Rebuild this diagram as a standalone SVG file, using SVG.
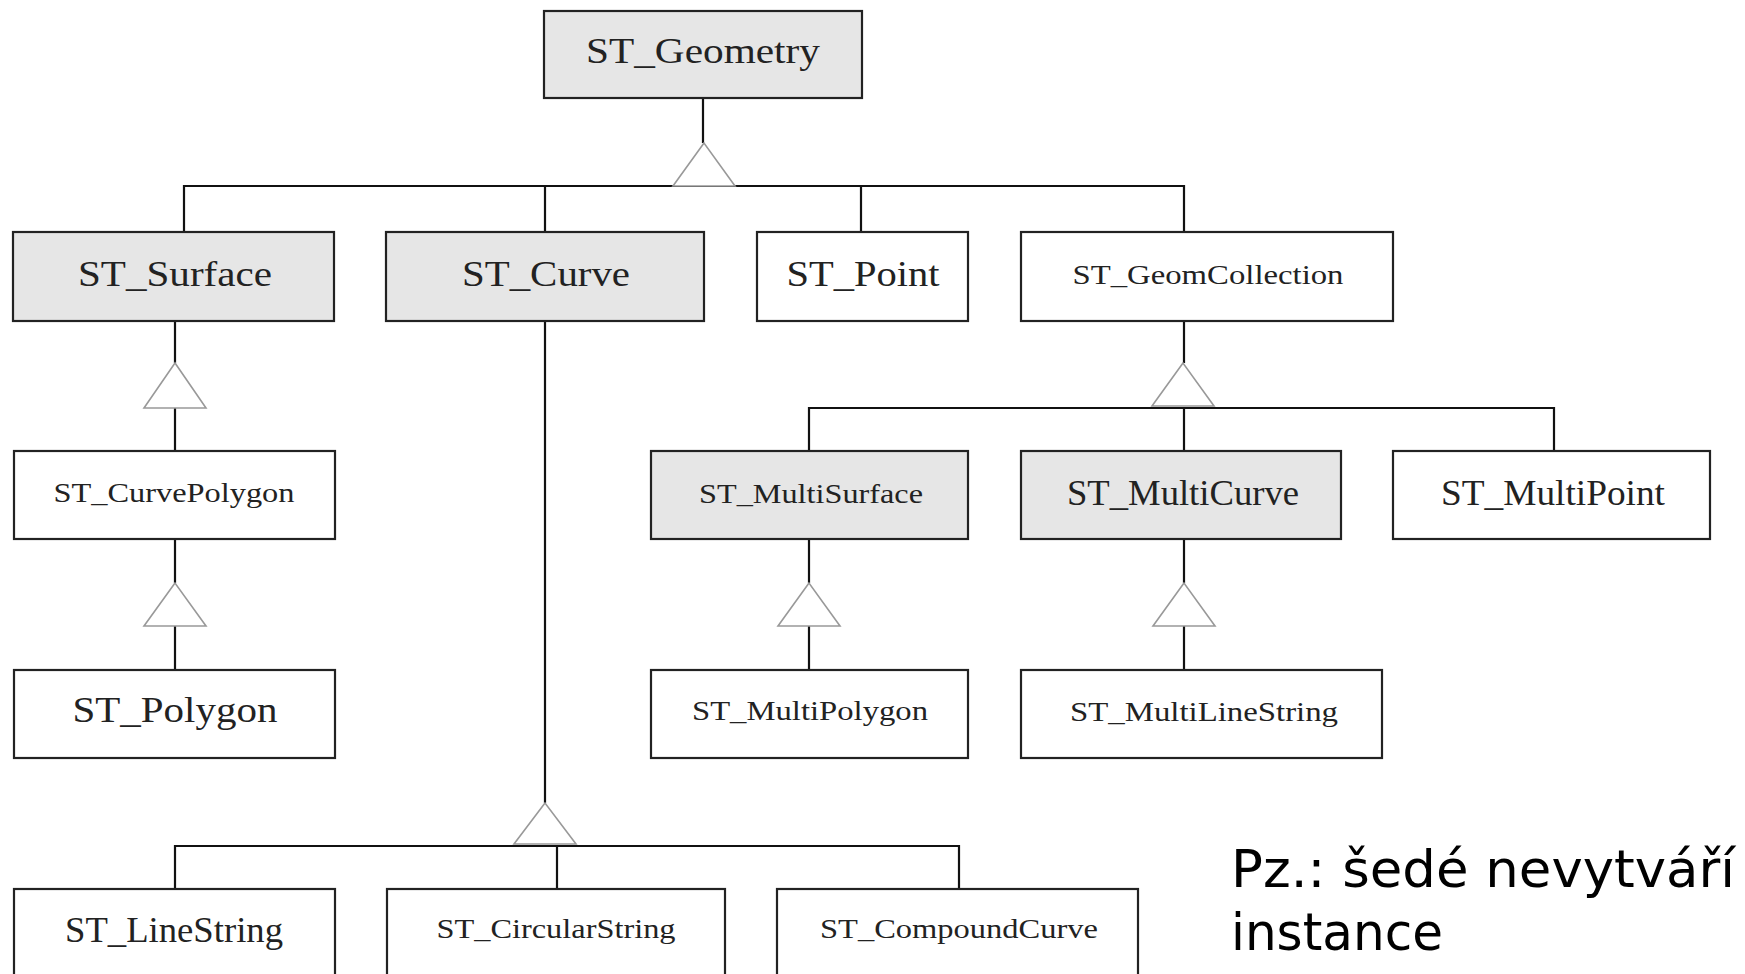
<svg xmlns="http://www.w3.org/2000/svg" width="1745" height="974" viewBox="0 0 1745 974">
<style>
.box{stroke:#222;stroke-width:2.2}
.abs{fill:#e6e6e6}
.con{fill:#fff}
.lbl{font-family:"Liberation Serif","Times New Roman",serif;fill:#222;text-anchor:middle}
.big{font-size:35px}
.sm{font-size:27px}
.ln{stroke:#111;stroke-width:2.2;fill:none}
.tri{fill:#fff;stroke:#999;stroke-width:1.6}
.note{font-family:"DejaVu Sans",Verdana,sans-serif;font-size:52px;fill:#000}
</style>
<rect width="1745" height="974" fill="#fff"/>
<g id="connectors">
<path class="ln" d="M703 98V143M184 232V186H1184V232M545 186V232M861 186V232"/>
<path class="ln" d="M175 321V363M175 408V451M175 539V583M175 626V670"/>
<path class="ln" d="M545 321V803M175 889V846H959V889M557 846V889"/>
<path class="ln" d="M1184 321V363M809 451V408H1554V451M1184 408V451"/>
<path class="ln" d="M809 539V583M809 626V670M1184 539V583M1184 626V670"/>
<polygon class="tri" points="704,143 673,186 735,186"/>
<polygon class="tri" points="175,363 144,408 206,408"/>
<polygon class="tri" points="175,583 144,626 206,626"/>
<polygon class="tri" points="545,803 514,844 576,844"/>
<polygon class="tri" points="1183,363 1152,406 1214,406"/>
<polygon class="tri" points="809,583 778,626 840,626"/>
<polygon class="tri" points="1184,583 1153,626 1215,626"/>
</g>
<g id="ST_Geometry"><rect class="box abs" x="544" y="11" width="318" height="87"/><text class="lbl big" x="703" y="63" textLength="234" lengthAdjust="spacingAndGlyphs">ST_Geometry</text></g>
<g id="ST_Surface"><rect class="box abs" x="13" y="232" width="321" height="89"/><text class="lbl big" x="175" y="286" textLength="194" lengthAdjust="spacingAndGlyphs">ST_Surface</text></g>
<g id="ST_Curve"><rect class="box abs" x="386" y="232" width="318" height="89"/><text class="lbl big" x="546" y="286" textLength="168" lengthAdjust="spacingAndGlyphs">ST_Curve</text></g>
<g id="ST_Point"><rect class="box con" x="757" y="232" width="211" height="89"/><text class="lbl big" x="863" y="286" textLength="153" lengthAdjust="spacingAndGlyphs">ST_Point</text></g>
<g id="ST_GeomCollection"><rect class="box con" x="1021" y="232" width="372" height="89"/><text class="lbl sm" x="1208" y="284" textLength="271" lengthAdjust="spacingAndGlyphs">ST_GeomCollection</text></g>
<g id="ST_CurvePolygon"><rect class="box con" x="14" y="451" width="321" height="88"/><text class="lbl sm" x="174" y="502" textLength="241" lengthAdjust="spacingAndGlyphs">ST_CurvePolygon</text></g>
<g id="ST_MultiSurface"><rect class="box abs" x="651" y="451" width="317" height="88"/><text class="lbl sm" x="811" y="503" textLength="224" lengthAdjust="spacingAndGlyphs">ST_MultiSurface</text></g>
<g id="ST_MultiCurve"><rect class="box abs" x="1021" y="451" width="320" height="88"/><text class="lbl big" x="1183" y="505" font-size="31" textLength="232" lengthAdjust="spacingAndGlyphs">ST_MultiCurve</text></g>
<g id="ST_MultiPoint"><rect class="box con" x="1393" y="451" width="317" height="88"/><text class="lbl big" x="1553" y="505" font-size="31" textLength="224" lengthAdjust="spacingAndGlyphs">ST_MultiPoint</text></g>
<g id="ST_Polygon"><rect class="box con" x="14" y="670" width="321" height="88"/><text class="lbl big" x="175" y="722" textLength="205" lengthAdjust="spacingAndGlyphs">ST_Polygon</text></g>
<g id="ST_MultiPolygon"><rect class="box con" x="651" y="670" width="317" height="88"/><text class="lbl sm" x="810" y="720" textLength="236" lengthAdjust="spacingAndGlyphs">ST_MultiPolygon</text></g>
<g id="ST_MultiLineString"><rect class="box con" x="1021" y="670" width="361" height="88"/><text class="lbl sm" x="1204" y="721" textLength="268" lengthAdjust="spacingAndGlyphs">ST_MultiLineString</text></g>
<g id="ST_LineString"><rect class="box con" x="14" y="889" width="321" height="95"/><text class="lbl big" x="174" y="942" font-size="31" textLength="218" lengthAdjust="spacingAndGlyphs">ST_LineString</text></g>
<g id="ST_CircularString"><rect class="box con" x="387" y="889" width="338" height="95"/><text class="lbl sm" x="556" y="938" textLength="239" lengthAdjust="spacingAndGlyphs">ST_CircularString</text></g>
<g id="ST_CompoundCurve"><rect class="box con" x="777" y="889" width="361" height="95"/><text class="lbl sm" x="959" y="938" textLength="278" lengthAdjust="spacingAndGlyphs">ST_CompoundCurve</text></g>
<g id="note"><text class="note" x="1231" y="887" textLength="504" lengthAdjust="spacingAndGlyphs">Pz.: šedé nevytváří</text><text class="note" x="1231" y="950" textLength="212" lengthAdjust="spacingAndGlyphs">instance</text></g>
</svg>
